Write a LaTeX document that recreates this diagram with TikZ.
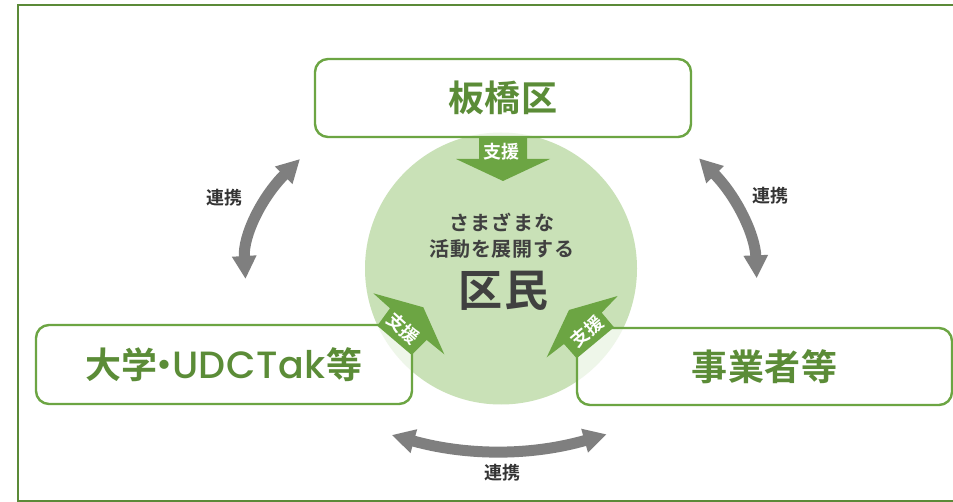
\documentclass[tikz,border=0pt]{standalone}
\usepackage{fontspec}
\usetikzlibrary{arrows.meta}
\setmainfont{Noto Sans CJK JP}[BoldFont={Noto Sans CJK JP Bold}]
\newfontfamily\latinf{Poppins}[BoldFont={Poppins Medium}]
\definecolor{framegreen}{HTML}{5B8A38}
\definecolor{arrowgreen}{HTML}{6CA543}
\definecolor{circgreen}{HTML}{C9E1B7}
\definecolor{textgreen}{HTML}{5B8C37}
\definecolor{darktext}{HTML}{404040}
\definecolor{linkgrey}{HTML}{7F7F7F}
\newcommand{\fsz}[1]{\fontsize{#1}{#1}\selectfont\bfseries}
\tikzset{
  x=1pt,y=-1pt,
  actorbox/.style={draw=arrowgreen,line width=2.4pt,rounded corners=13pt,fill=white,fill opacity=.7,text opacity=1,
    text=textgreen,minimum width=376pt,inner sep=0pt,font=\fsz{36}},
  linkarrow/.style={draw=linkgrey,line width=11pt,{Triangle[length=23pt,width=23pt]}-{Triangle[length=23pt,width=23pt]}},
  linklabel/.style={text=black!80,inner sep=0pt,font=\fsz{18}},
  supportlabel/.style={text=white,inner sep=0pt,font=\fsz{18}},
  supportarrow/.style={fill=arrowgreen,draw=none},
}
\begin{document}
\begin{tikzpicture}
\useasboundingbox (0,0) rectangle (953,502);
\fill[white] (0,0) rectangle (953,502);
\draw[framegreen,line width=2.4pt] (960,5) -- (18,5) -- (18,501) -- (960,501);
\node[circle,fill=circgreen,minimum size=272pt,inner sep=0pt] (kumin) at (501,268.5) {};
\node[actorbox,minimum height=78pt] (itabashi) at (503,98) {\raisebox{1.5pt}{\addfontfeature{LetterSpace=2}板橋区}\hspace{4pt}};
\node[actorbox,minimum height=79pt] (daigaku) at (224,364.5) {\raisebox{2pt}{\addfontfeature{LetterSpace=1}大学{\hspace{-.3em}・\hspace{-.3em}}{\latinf\fontsize{38}{38}\selectfont\addfontfeature{LetterSpace=1.5}UDCTak}\hspace{1pt}等}};
\node[actorbox,minimum height=77pt,minimum width=375pt] (jigyo) at (764.5,366.5) {\raisebox{1pt}{\addfontfeature{LetterSpace=1.5}事業者等}};
\fill[supportarrow] (479,137) -- (527,137) -- (527,159) -- (550,159) -- (503,181) -- (456,159) -- (479,159) -- cycle;
\fill[supportarrow] (423.3,307.3) -- (444.3,354.3) -- (426.7,340) -- (411.7,355) -- (377.3,325.7) -- (390,308.3) -- (373.3,293.3) -- cycle;
\fill[supportarrow] (569,310) -- (546.7,357.3) -- (564,344) -- (576.7,358.3) -- (614,327.3) -- (601.7,312.7) -- (617.7,296) -- cycle;
\node[supportlabel] (s1) at (501.5,152) {支援};
\node[supportlabel,rotate=-42] (s2) at (403,328) {支援};
\node[supportlabel,rotate=40] (s3) at (586.7,331.7) {支援};
\node[text=darktext,inner sep=0pt,align=center,font=\fsz{20}] (t1) at (502,236) {\addfontfeature{LetterSpace=5.5}さまざまな\\[6pt]\addfontfeature{LetterSpace=4}活動を展開する};
\node[text=darktext,inner sep=0pt,font=\fsz{44}] (t2) at (503.5,291) {\addfontfeature{LetterSpace=5}区民};
\coordinate (la) at (300,159); \coordinate (lb) at (245.5,279);
\coordinate (ra) at (699,158.3); \coordinate (rb) at (756.7,278.3);
\coordinate (ba) at (391.7,435); \coordinate (bb) at (606.7,434.3);
\draw[linkarrow] (la) .. controls (262,197) and (243,235) .. (lb);
\draw[linkarrow] (ra) .. controls (737,197) and (755,235) .. (rb);
\draw[linkarrow] (ba) .. controls (467,456) and (531,456) .. (bb);
\node[linklabel] (l1) at (224,198) {連携};
\node[linklabel] (l2) at (770,196) {連携};
\node[linklabel] (l3) at (502.5,472.5) {連携};
\end{tikzpicture}
\end{document}
